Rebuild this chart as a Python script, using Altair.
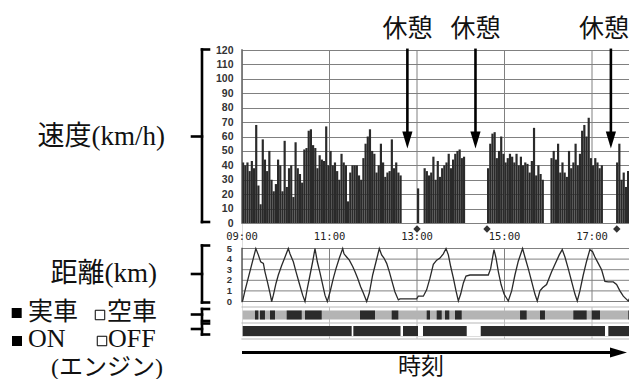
import altair as alt
import pandas as pd

# ---------------- data ----------------
SPEED_STEP_MIN = 3  # one bar per 3 minutes, starting 09:00
speed_kmh = [42, 40, 42, 36, 43, 38, 68, 26, 13, 58,
             44, 36, 50, 30, 22, 27, 44, 40, 22, 57,
             25, 38, 40, 18, 56, 38, 34, 28, 51, 52,
             64, 65, 54, 52, 38, 47, 44, 43, 67, 40,
             50, 40, 42, 36, 30, 48, 42, 40, 15, 35,
             40, 40, 40, 33, 30, 45, 55, 60, 65, 50,
             48, 35, 40, 55, 42, 32, 35, 36, 58, 38,
             42, 35, 33, 0, 0, 0, 0, 0, 0, 0,
             24, 0, 0, 38, 36, 33, 35, 46, 30, 43,
             32, 38, 40, 42, 48, 38, 44, 48, 50, 51,
             45, 46, 0, 0, 0, 0, 0, 0, 0, 0,
             0, 0, 38, 55, 62, 63, 45, 50, 60, 48,
             42, 45, 48, 46, 42, 48, 40, 46, 40, 42,
             41, 35, 43, 66, 33, 40, 34, 30, 0, 0,
             0, 45, 50, 44, 55, 35, 42, 35, 32, 50,
             38, 42, 55, 40, 48, 64, 68, 60, 73, 45,
             40, 45, 42, 38, 40, 0, 0, 0, 0, 0,
             0, 42, 55, 30, 35, 25, 36, 38]

# distance line: minutes after 09:00 and km
dist_min = [0, 1, 4, 19, 22.4, 25.6, 29.3, 31.5, 34.7, 38.4, 40.7, 43, 46.6, 49.8, 54.4,
            59, 63.5, 65.8, 70.4, 74.1, 78.6, 83.2, 86.4, 89.6, 93.3, 96.9, 100.1, 103.3,
            107, 110.6, 113.8, 117, 120.7, 125.3, 128.9, 133.5, 138.1, 139.9, 143.5, 147.2,
            151.8, 155, 158.6, 162.7, 166.4, 171, 174.6, 179.2, 183.8, 188.3, 191.5, 194.7,
            198.4, 202.1, 205.7, 209.8, 214.4, 216.7, 239.5, 241.8, 248.7, 253.2, 257.8,
            262.4, 267, 271.5, 276.1, 279.8, 283, 286.2, 289.9, 293.5, 296.7, 299.9, 303.6,
            307.2, 312.7, 326.4, 337.8, 341, 343.8, 345.6, 348.4, 351.6, 355.3, 359.4, 365.2,
            369.8, 374.3, 378.9, 384.8, 388, 392.6, 397.2, 401.7, 404.9, 408.6, 412.2, 417.7,
            424.6, 429.1, 435.1, 439.2, 442.9, 447.4, 452, 456.6, 459.8, 463.4, 468, 472.6,
            477.1, 480.8, 484, 488.6, 493.2, 497.7, 502.3, 509.2, 513.7, 518.3, 522.9, 527.4,
            529.7, 532.9]
dist_km = [0, 0.1, 1, 5, 4.4, 3.75, 3.6, 2.8, 1.9, 0.8, 0, 0.6, 1.7, 2.5, 3.4,
           4.2, 5, 4.5, 3.75, 2.8, 1.7, 0.6, 0, 1.25, 2.5, 3.75, 5, 3.75,
           2.7, 1.6, 0.6, 0, 0.9, 2.2, 3.1, 4.1, 5, 4.5, 4.2, 3.9,
           3.3, 2.8, 2.2, 1.4, 0.8, 0, 0.8, 2.5, 3.75, 5, 4.4, 4.1,
           3.6, 2.8, 1.9, 0.9, 0.15, 0.25, 0.25, 0.5, 0.5, 1.1, 2.2,
           3.5, 3.9, 4.1, 4.5, 5, 4.4, 3.3, 2.2, 1, 0.05, 0.7, 1.75,
           2.4, 2.5, 2.5, 2.5, 3.1, 4.2, 4.9, 4.1, 2.8, 1.6, 0.7, 0.05,
           1, 2.5, 3.8, 5, 4.2, 3.1, 1.9, 0.7, 0.05, 1, 1.3, 1.6,
           2.8, 3.5, 4.4, 4.9, 4.2, 3.1, 1.9, 0.7, 0.05, 1, 2.5, 3.8,
           4.9, 4.7, 4.2, 3.6, 3, 1.9, 1.85, 1.85, 1.6, 1, 0.5, 0.2,
           0.05, 0.5]

# 実車 (loaded) intervals, minutes after 09:00
loaded_start = [17.8, 24.7, 38.4, 61.3, 86.4, 161.8, 205.3, 253.3, 267, 278.4, 292.1, 381.3, 408.7, 454.4, 479.6, 529.8]
loaded_end = [22.4, 31.5, 45.3, 81.9, 109.3, 182.4, 214.4, 257.8, 273.9, 284.3, 301.3, 390.4, 415.5, 472.7, 491, 533.5]
# engine OFF intervals
engine_off_start = [150.4, 217.4, 241.4, 308.2, 497.8]
engine_off_end = [152.7, 220.8, 248.2, 327.4, 502.4]
record_start, record_end = 1, 533.5

time_tick_min = [0, 120, 240, 360, 480]
time_tick_label = ["09:00", "11:00", "13:00", "15:00", "17:00"]
grid_min = [120, 240, 360, 480]
rest_min = [226.8, 320.2, 505.9]
rest_label = ["休憩", "休憩", "休憩"]
marker_min = [240, 336, 514]
speed_ticks = list(range(0, 121, 10))
dist_ticks = [0, 1, 2, 3, 4, 5]

# ---------------- frames ----------------
speed_df = pd.DataFrame({"s": [i * SPEED_STEP_MIN for i in range(len(speed_kmh))],
                         "e": [(i + 1) * SPEED_STEP_MIN for i in range(len(speed_kmh))],
                         "v": speed_kmh})
dist_df = pd.DataFrame({"t": dist_min, "km": dist_km})
loaded_df = pd.DataFrame({"s": loaded_start, "e": loaded_end})
off_df = pd.DataFrame({"s": engine_off_start, "e": engine_off_end})
span_df = pd.DataFrame({"s": [record_start], "e": [record_end]})
tick_df = pd.DataFrame({"t": time_tick_min, "label": time_tick_label})
grid_df = pd.DataFrame({"t": grid_min})
rest_df = pd.DataFrame({"t": rest_min, "label": rest_label})
marker_df = pd.DataFrame({"t": marker_min})
dtick_df = pd.DataFrame({"km": dist_ticks})
ONE = alt.Data(values=[{"a": 1}])

# ---------------- layout ----------------
W, H = 387, 286
T_END = W / 43.75 * 60          # 43.75 px per hour, as in the reference
X = alt.Scale(domain=[0, T_END], nice=False, zero=False, padding=0)
SPEED = alt.Scale(domain=[0, 120], range=[173, 0], nice=False, zero=False)
DIST = alt.Scale(domain=[0, 5], range=[251.5, 198.5], nice=False, zero=False)
ROW1 = (260.5, 269.5)
ROW2 = (276, 286)
CJK = "Noto Sans CJK JP"
MIX = "Liberation Serif, Noto Sans CJK JP"
ARROW_DOWN = "M-0.6,-1L0.6,-1L0,1Z"
ARROW_RIGHT = "M-1,-0.6L1,0L-1,0.6Z"


def xt(field="t:Q"):
    return alt.X(field, scale=X, axis=None)


def seg(x, x2, y, y2, color="black", w=2.6):
    return alt.Chart(ONE).mark_rule(color=color, strokeWidth=w, strokeCap="square").encode(
        x=alt.value(x), x2=alt.value(x2), y=alt.value(y), y2=alt.value(y2))


def bracket(y0, y1, ym):
    return [seg(-40, -40, y0, y1), seg(-40, -33, y0, y0), seg(-40, -33, y1, y1), seg(-50, -40, ym, ym)]


def label(text, x, y, size=27, font=MIX, align="right"):
    return alt.Chart(ONE).mark_text(text=text, font=font, fontSize=size, align=align,
                                    baseline="middle", color="#111").encode(
        x=alt.value(x), y=alt.value(y))


layers = []

# status rows frame
for yy in (257, 273, 289):
    layers.append(seg(0, W, yy, yy, color="#b8b8b8", w=1.2))
# vertical grid lines
for (a, b, col) in ((0, 173, "#808080"), (198.5, 251.5, "#808080"), (257, 289, "#c0c0c0")):
    layers.append(alt.Chart(grid_df).mark_rule(color=col, strokeWidth=1).encode(
        x=xt(), y=alt.value(a), y2=alt.value(b)))
# distance horizontal grid
layers.append(alt.Chart(dtick_df).mark_rule(color="#808080", strokeWidth=1).encode(
    y=alt.Y("km:Q", scale=DIST, axis=None)))
# speed bars (with the speed axis + horizontal grid)
layers.append(alt.Chart(speed_df).mark_rect(color="#2a2a2a").encode(
    x=xt("s:Q"), x2="e:Q",
    y=alt.Y("v:Q", scale=SPEED,
            axis=alt.Axis(values=speed_ticks, grid=True, gridColor="#808080", gridWidth=1,
                          ticks=False, domain=False, labelFont="Liberation Sans",
                          labelFontWeight="bold", labelFontSize=10.5, labelColor="#333",
                          labelPadding=9, labelOverlap=False, title=None, orient="left")),
    y2=alt.Y2Datum(0)))
# panel left borders
layers.append(seg(0, 0, 0, 173, color="#444", w=1.3))
layers.append(seg(0, 0, 198.5, 251.5, color="#444", w=1.3))
# distance line
layers.append(alt.Chart(dist_df).mark_line(color="#2a2a2a", strokeWidth=1.3).encode(
    x=xt(), y=alt.Y("km:Q", scale=DIST, axis=None)))
# distance axis labels
layers.append(alt.Chart(dtick_df).mark_text(align="right", baseline="middle", font="Liberation Sans",
                                            fontWeight="bold", fontSize=9.5, color="#333").encode(
    x=alt.value(-10), y=alt.Y("km:Q", scale=DIST, axis=None), text="km:Q"))
# status rows
layers.append(alt.Chart(span_df).mark_rect(color="#b4b4b4").encode(
    x=xt("s:Q"), x2="e:Q", y=alt.value(ROW1[0]), y2=alt.value(ROW1[1])))
layers.append(alt.Chart(loaded_df).mark_rect(color="#2b2b2b").encode(
    x=xt("s:Q"), x2="e:Q", y=alt.value(ROW1[0]), y2=alt.value(ROW1[1])))
layers.append(alt.Chart(span_df).mark_rect(color="#2b2b2b").encode(
    x=xt("s:Q"), x2="e:Q", y=alt.value(ROW2[0]), y2=alt.value(ROW2[1])))
layers.append(alt.Chart(off_df).mark_rect(color="white").encode(
    x=xt("s:Q"), x2="e:Q", y=alt.value(ROW2[0]), y2=alt.value(ROW2[1])))
# time labels and markers
layers.append(alt.Chart(tick_df).mark_text(align="center", baseline="middle", font="DejaVu Sans Mono",
                                           fontSize=10.5, color="#222").encode(
    x=xt(), y=alt.value(187), text="label:N"))
layers.append(alt.Chart(marker_df).mark_point(shape="diamond", filled=True, size=55, color="#333",
                                              opacity=1).encode(x=xt(), y=alt.value(179)))
# rest arrows
layers.append(alt.Chart(rest_df).mark_rule(color="black", strokeWidth=2.6).encode(
    x=xt(), y=alt.YDatum(121, scale=SPEED, axis=None), y2=alt.Y2Datum(63)))
layers.append(alt.Chart(rest_df).mark_point(shape=ARROW_DOWN, size=289, filled=True, color="black",
                                            opacity=1).encode(
    x=xt(), y=alt.YDatum(57.6, scale=SPEED, axis=None)))
layers.append(alt.Chart(rest_df.iloc[:2]).mark_text(font=CJK, fontSize=25, align="center",
                                                    baseline="middle", color="#111").encode(
    x=xt(), y=alt.value(-21.5), text="label:N"))
layers.append(alt.Chart(rest_df.iloc[2:]).mark_text(font=CJK, fontSize=25, align="center",
                                                    baseline="middle", color="#111", dx=-7).encode(
    x=xt(), y=alt.value(-21.5), text="label:N"))
# time arrow
layers.append(alt.Chart(ONE).mark_rule(color="black", strokeWidth=3).encode(
    x=alt.XDatum(0, scale=X, axis=None), x2=alt.X2Datum(516), y=alt.value(302.5)))
layers.append(alt.Chart(ONE).mark_point(shape=ARROW_RIGHT, size=289, filled=True, color="black",
                                        opacity=1).encode(
    x=alt.XDatum(516.3, scale=X, axis=None), y=alt.value(302.5)))
layers.append(label("時刻", 179, 316.9, size=23, align="center"))
# brackets
layers += bracket(-0.5, 172, 86.5)
layers += bracket(195.5, 252.5, 224)
layers += bracket(259, 271, 264.5)
layers += bracket(273.5, 284.5, 279)
# left labels
layers.append(label("速度(km/h)", -77, 87))
layers.append(label("距離(km)", -85, 224))
layers.append(label("実車", -214, 262, size=25, align="left"))
layers.append(label("空車", -135, 262, size=25, align="left"))
layers.append(label("ON", -214, 289, size=26, font="Liberation Serif", align="left"))
layers.append(label("OFF", -134, 289, size=26, font="Liberation Serif", align="left"))
layers.append(label("(エンジン)", -79, 317.5, size=24))
# legend squares
layers.append(alt.Chart(ONE).mark_point(shape="square", filled=True, size=100, color="black",
                                        opacity=1).encode(x=alt.value(-225.3), y=alt.value(263)))
layers.append(alt.Chart(ONE).mark_point(shape="square", filled=True, size=100, color="black",
                                        opacity=1).encode(x=alt.value(-225), y=alt.value(291)))
layers.append(alt.Chart(ONE).mark_point(shape="square", filled=False, size=90, color="black",
                                        strokeWidth=1, opacity=1).encode(x=alt.value(-142), y=alt.value(265)))
layers.append(alt.Chart(ONE).mark_point(shape="square", filled=False, size=90, color="black",
                                        strokeWidth=1, opacity=1).encode(x=alt.value(-140), y=alt.value(291)))

chart = alt.layer(*layers).resolve_scale(y="independent").properties(
    width=W, height=H,
    padding={"left": 234, "top": 42, "right": 0, "bottom": 43},
    autosize=alt.AutoSizeParams(type="none", contains="content"),
).configure_view(stroke=None).configure(background="white")

chart.save("out.html", embed_options={"renderer": "svg", "actions": False})
